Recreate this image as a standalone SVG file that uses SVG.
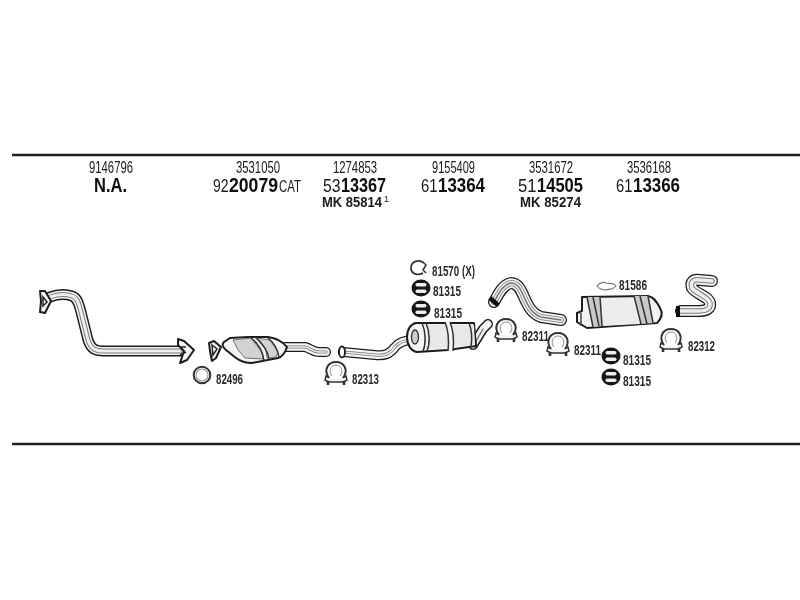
<svg xmlns="http://www.w3.org/2000/svg" width="800" height="600" viewBox="0 0 800 600">
<style>
text{font-family:"Liberation Sans",Arial,sans-serif;fill:#1a1a1a}
.n{font-size:17px}
.r{font-size:18px}
.c{font-size:16px}
.b{font-size:21px;font-weight:bold;fill:#111}
.m{font-size:15px;font-weight:bold}
.l{font-size:14px;font-weight:bold;fill:#2a2a2a}
.s1{fill:none;stroke:#1c1c1c;stroke-linejoin:round;stroke-linecap:round}
.s2{fill:none;stroke:#f4f4f4;stroke-linejoin:round;stroke-linecap:round}
.s3{fill:none;stroke:#777;stroke-linejoin:round;stroke-linecap:round}
.s4{fill:none;stroke:#eee;stroke-linejoin:round;stroke-linecap:round}
.s{fill:#f4f4f4;stroke:#1c1c1c;stroke-width:2;stroke-linejoin:round}
.d{fill:none;stroke:#333;stroke-width:1.500}
.e{fill:#d2d2d2;stroke:#555;stroke-width:.8}
</style>
<defs>
<filter id="soft" x="-2%" y="-2%" width="104%" height="104%"><feGaussianBlur stdDeviation="0.45"/></filter>
<path id="front" d="M50 297C58 294 66 294 72 296C78 298 79 305 81 312L88 340C91 349 95 351 104 351H180"/>
<path id="catout" d="M285 347L305 347C310 348 313 352 319 352H326"/>
<path id="midin" d="M343 352L375 355C385 356 390 354 395 347C399 342 404 340 414 340"/>
<path id="tail" d="M494 302C498 295 502 285 511 283C518 283 521 290 524 297C528 306 532 314 541 317L561 320"/>
<path id="rear" d="M712 281L700 280C693 279 690 282 692 288C695 293 709 297 710 303C711 309 706 311 698 311H681"/>
<g id="clamp"><path d="M-7 6C-13-2-8-10 0-10S13-2 7 6" fill="none" stroke="#333" stroke-width="2"/><path d="M-4 4C-8-1-5-7 0-7S8-1 4 4" fill="none" stroke="#888" stroke-width="1"/><path d="M-7 6L-10 4L-11 8L-7 10H7L11 8L10 4L7 6" fill="#f4f4f4" stroke="#333" stroke-width="1.500"/><path d="M-8 9V13M8 9V13" stroke="#333" stroke-width="2.600"/></g>
<g id="rubber"><ellipse rx="9.500" ry="8.500" fill="#151515"/><rect x="-5.500" y="-5" width="11" height="3.500" rx="1.700" fill="#eee"/><rect x="-5.500" y="1.500" width="11" height="3.500" rx="1.700" fill="#eee"/></g>
</defs>
<g filter="url(#soft)">
<g id="rules" stroke="#222" stroke-width="2.400"><path d="M12 155H800M12 444H800"/></g>
<g id="connectors"></g>

<g id="col1"><text class="n" x="89" y="173" textLength="44" lengthAdjust="spacingAndGlyphs">9146796</text><text class="b" x="94" y="192" textLength="33" lengthAdjust="spacingAndGlyphs">N.A.</text></g>
<g id="col2"><text class="n" x="236" y="173" textLength="44" lengthAdjust="spacingAndGlyphs">3531050</text><text y="192"><tspan class="r" x="213" textLength="15.500" lengthAdjust="spacingAndGlyphs">92</tspan><tspan class="b" x="229" textLength="49" lengthAdjust="spacingAndGlyphs">20079</tspan><tspan class="c" x="279" textLength="22" lengthAdjust="spacingAndGlyphs">CAT</tspan></text></g>
<g id="col3"><text class="n" x="333" y="173" textLength="44" lengthAdjust="spacingAndGlyphs">1274853</text><text y="192"><tspan class="r" x="323" textLength="17.500" lengthAdjust="spacingAndGlyphs">53</tspan><tspan class="b" x="341" textLength="45" lengthAdjust="spacingAndGlyphs">13367</tspan></text><text class="m" x="322" y="207"><tspan textLength="60" lengthAdjust="spacingAndGlyphs">MK 85814</tspan><tspan dx="2" dy="-5" style="font-size:9px;font-weight:normal">1</tspan></text></g>
<g id="col4"><text class="n" x="432" y="173" textLength="43" lengthAdjust="spacingAndGlyphs">9155409</text><text y="192"><tspan class="r" x="421" textLength="16.500" lengthAdjust="spacingAndGlyphs">61</tspan><tspan class="b" x="438" textLength="47" lengthAdjust="spacingAndGlyphs">13364</tspan></text></g>
<g id="col5"><text class="n" x="529" y="173" textLength="44" lengthAdjust="spacingAndGlyphs">3531672</text><text y="192"><tspan class="r" x="518" textLength="18.500" lengthAdjust="spacingAndGlyphs">51</tspan><tspan class="b" x="537" textLength="46" lengthAdjust="spacingAndGlyphs">14505</tspan></text><text class="m" x="520" y="207" textLength="61" lengthAdjust="spacingAndGlyphs">MK 85274</text></g>
<g id="col6"><text class="n" x="627" y="173" textLength="44" lengthAdjust="spacingAndGlyphs">3536168</text><text y="192"><tspan class="r" x="616" textLength="16.500" lengthAdjust="spacingAndGlyphs">61</tspan><tspan class="b" x="633" textLength="47" lengthAdjust="spacingAndGlyphs">13366</tspan></text></g>

<g id="front-pipe">
<use href="#front" class="s1" stroke-width="11"/><use href="#front" class="s2" stroke-width="8"/><use href="#front" class="s3" stroke-width="5"/><use href="#front" class="s4" stroke-width="3"/>
<path class="s" d="M40 291L45 291L51 301L45 313L40 312L41 301Z"/><path d="M43 297L47 302L43 306Z" fill="#fff" stroke="#222" stroke-width="1.500"/>
<path class="s" d="M178 339L184 341L194 350L187 360L180 363L184 351L178 345Z"/><path d="M180 347H186M180 355L186 352" stroke="#222" stroke-width="1.500"/>
</g>

<g id="catalyst">
<use href="#catout" class="s1" stroke-width="10"/><use href="#catout" class="s2" stroke-width="7.500"/><use href="#catout" class="s3" stroke-width="3"/><use href="#catout" class="s4" stroke-width="1.500"/>
<path class="s" d="M209 343L214 341L221 347L216 358L212 361L210 351Z"/><path d="M212 345L217 349L213 355Z" fill="#fff" stroke="#222" stroke-width="1.500"/>
<path class="s" d="M224 342L230 338L248 337H268C276 338 283 342 287 347C285 353 282 357 278 358L252 363C245 363 240 361 236 358L226 350C222 347 222 344 224 342Z"/>
<path class="e" d="M233 340L251 338L262 352L263 359L245 358L238 350Z"/><path class="e" d="M256 338L270 340L278 352L276 357L267 358L266 350Z"/>
<path class="d" d="M250 337C258 343 263 352 264 361M255 337C263 343 268 352 269 359M268 338C274 343 278 350 279 357"/>
</g>

<g id="muffler-mid">
<use href="#midin" class="s1" stroke-width="10"/><use href="#midin" class="s2" stroke-width="7.500"/><use href="#midin" class="s3" stroke-width="3"/><use href="#midin" class="s4" stroke-width="1.500"/>
<ellipse cx="342" cy="352" rx="3" ry="5.500" fill="#fff" stroke="#222" stroke-width="2"/>
<path class="s1" stroke-width="10" d="M473 345L483 329L488 324"/><path class="s2" stroke-width="7" d="M473 345L483 329L488 324"/><path class="s3" stroke-width="1.500" d="M475 343L483 329"/>
<path class="s" d="M416 323L474 323L476 346L448 350L417 352C411 351 407 345 407 337C407 329 411 324 416 323Z"/>
<path d="M427 325H474L475 345L429 349C430 340 430 332 427 325Z" fill="#e8e8e8"/>
<path d="M445 322C449 332 449 342 448 351L453 351C454 342 454 332 450 322Z" fill="#f4f4f4"/>
<path class="d" d="M422 323C426 332 426 344 423 351M426 323C430 332 430 344 427 351M445 322C449 332 449 342 448 351M450 322C454 332 454 342 453 351M469 323C472 330 472 340 471 347"/>
<ellipse cx="415" cy="337" rx="3.500" ry="7" fill="#ccc" stroke="#333" stroke-width="1.300"/>
</g>

<g id="tail-pipe">
<use href="#tail" class="s1" stroke-width="12"/><use href="#tail" class="s2" stroke-width="9.500"/><use href="#tail" class="s3" stroke-width="6"/><use href="#tail" class="s4" stroke-width="4.500"/><use href="#tail" class="s3" stroke-width="1.500"/>
<path d="M490 298L498 305" stroke="#111" stroke-width="4.500"/>
</g>

<g id="muffler-rear">
<path class="s" d="M582 297L648 296C654 297 657 302 660 308C663 313 662 318 657 323L587 328L582 325L577 322V313L582 311Z"/>
<path d="M587 297H601L603 326L593 327ZM634 296H648L654 323L641 324Z" fill="#c8c8c8"/>
<path d="M602 298H633L640 324L603 326Z" fill="#ececec"/>
<path class="d" d="M587 297L593 327M593 297L599 326M600 297L602 326M634 296L641 324M640 296L647 324M648 296L653 323"/>
<path d="M581 313V326" stroke="#444" stroke-width="1.500"/>
</g>

<g id="rear-pipe">
<use href="#rear" class="s1" stroke-width="12"/><use href="#rear" class="s2" stroke-width="9.500"/><use href="#rear" class="s3" stroke-width="5.500"/><use href="#rear" class="s4" stroke-width="3.500"/>
<path d="M678 306V317" stroke="#111" stroke-width="4"/>
</g>

<g id="p82496"><circle cx="202" cy="375" r="8.300" fill="none" stroke="#333" stroke-width="2"/><circle cx="202" cy="375" r="6" fill="none" stroke="#999" stroke-width="1.200"/><text class="l" x="216" y="384" textLength="27" lengthAdjust="spacingAndGlyphs">82496</text></g>
<g id="p82313"><use href="#clamp" x="336" y="372"/><text class="l" x="352" y="384" textLength="27" lengthAdjust="spacingAndGlyphs">82313</text></g>
<g id="p81570"><path d="M424 263C419 259 411 261 411 268C411 274 418 276 423 273" fill="none" stroke="#333" stroke-width="1.800"/><path d="M424 263L426 265L423 270L426 273" fill="none" stroke="#333" stroke-width="1.500"/><text class="l" x="432" y="276" textLength="43" lengthAdjust="spacingAndGlyphs">81570 (X)</text></g>
<g id="p81315a"><use href="#rubber" x="421" y="288"/><text class="l" x="433" y="296" textLength="28" lengthAdjust="spacingAndGlyphs">81315</text></g>
<g id="p81315b"><use href="#rubber" x="421" y="309"/><text class="l" x="434" y="318" textLength="28" lengthAdjust="spacingAndGlyphs">81315</text></g>
<g id="p82311a"><use href="#clamp" x="506" y="329"/><text class="l" x="522" y="341" textLength="27" lengthAdjust="spacingAndGlyphs">82311</text></g>
<g id="p81586"><path d="M597 286C600 282 604 282 606 283C609 284 613 282 616 286C613 290 609 289 606 290C603 290 600 290 597 286Z" fill="none" stroke="#777" stroke-width="1.200"/><text class="l" x="619" y="290" textLength="28" lengthAdjust="spacingAndGlyphs">81586</text></g>
<g id="p82311b"><use href="#clamp" x="558" y="343"/><text class="l" x="574" y="355" textLength="27" lengthAdjust="spacingAndGlyphs">82311</text></g>
<g id="p81315c"><use href="#rubber" x="611" y="356"/><text class="l" x="623" y="365" textLength="28" lengthAdjust="spacingAndGlyphs">81315</text></g>
<g id="p81315d"><use href="#rubber" x="611" y="377"/><text class="l" x="623" y="386" textLength="28" lengthAdjust="spacingAndGlyphs">81315</text></g>
<g id="p82312"><use href="#clamp" x="671" y="339"/><text class="l" x="688" y="351" textLength="27" lengthAdjust="spacingAndGlyphs">82312</text></g>
</g>
</svg>
